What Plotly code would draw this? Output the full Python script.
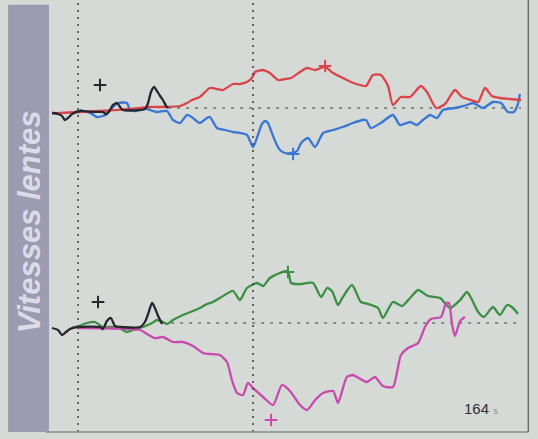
import plotly.graph_objects as go

# Time base in seconds, velocities in deg/s (upper panel: red/blue, lower panel: green/magenta)
red_t = [0, 2.8, 9.8, 16.8, 27.3, 34.3, 39.5, 44.8, 47.2, 49.0, 51.7, 55.2, 57.7, 59.8, 63.3, 65.7,
         68.2, 69.9, 71.0, 73.8, 76.2, 79.0, 81.5, 83.6, 86.7, 89.2, 92.0, 95.5, 98.3, 101.7, 104.5,
         107.7, 109.8, 112.2, 115.0, 117.5, 119.2, 122.0, 125.2, 129.0, 131.1, 134.3, 137.4, 140.9,
         143.4, 146.5, 149.0, 151.4, 153.8, 156.6, 160.1, 164.0]
red_v = [-1.25, -1.25, -1.0, -0.75, -0.25, 0.25, 0.25, 0.5, 1.25, 2.0, 2.75, 5.0, 4.75, 4.5, 6.0, 6.0,
         6.5, 7.5, 9.0, 9.5, 8.75, 7.0, 7.25, 7.5, 9.0, 10.0, 9.5, 10.25, 8.75, 7.5, 6.5,
         5.75, 5.5, 8.25, 8.25, 5.5, 0.75, 2.75, 2.75, 5.5, 4.0, 0.0, 1.0, 4.5,
         2.75, 2.0, 1.5, 5.0, 3.0, 2.5, 2.25, 2.0]

blue_t = [9.8, 13.3, 15.7, 17.8, 19.2, 21.0, 23.1, 26.2, 27.3, 29.7, 31.8, 34.3, 36.7, 40.2, 42.3,
          44.8, 47.2, 49.3, 51.7, 54.2, 55.2, 57.7, 60.5, 63.3, 65.7, 68.2, 70.3, 72.0, 73.4, 74.5,
          75.5, 76.9, 78.3, 79.7, 81.5, 83.9, 85.7, 87.1, 89.5, 92.0, 94.8, 98.3, 101.7, 105.2,
          108.7, 109.8, 111.5, 115.0, 119.2, 121.7, 125.2, 127.6, 129.7, 132.2, 134.6, 136.7,
          140.9, 145.1, 147.2, 150.7, 154.2, 157.0, 159.4, 161.5, 162.9, 163.6]
blue_v = [-0.5, -1.25, -2.25, -2.0, -1.5, 0.0, 1.25, 1.25, -0.5, -0.75, 0.0, -0.5, -1.0, -0.75, -3.0,
          -3.75, -1.75, -2.5, -3.75, -2.5, -2.25, -5.0, -5.5, -6.0, -6.25, -6.75, -9.75, -6.75, -4.0, -3.25,
          -3.75, -6.25, -8.75, -10.5, -11.25, -11.25, -10.75, -8.75, -7.5, -9.75, -6.25, -5.5, -4.75, -3.75,
          -3.0, -3.0, -5.0, -3.75, -1.75, -4.25, -3.5, -4.25, -3.0, -1.75, -2.5, -0.5,
          0.0, 0.75, 1.25, 0.0, 1.5, 1.25, -1.0, -1.0, 1.0, 3.5]

top_black_t = [0, 2.1, 3.5, 4.5, 5.6, 7.0, 9.8, 14.3, 17.8, 18.9, 20.3, 21.3, 22.7, 23.8, 24.8,
               32.5, 33.6, 34.6, 35.7, 36.7, 37.8, 38.8, 39.9, 40.6]
top_black_v = [-1.25, -1.5, -2.0, -3.0, -2.5, -1.5, -0.75, -1.0, -1.0, -1.5, -0.5, 0.75, 1.25, 0.25, -0.5,
               -0.25, 1.25, 4.0, 5.25, 4.25, 3.0, 2.0, 0.5, 0.0]

green_t = [8.7, 12.2, 15.0, 17.8, 22.7, 26.2, 28.3, 31.8, 35.0, 36.7, 38.8, 40.2, 42.3, 45.8, 49.3,
           51.7, 54.2, 56.3, 58.7, 63.3, 65.7, 68.2, 71.7, 73.8, 76.2, 79.7, 82.5, 83.6, 87.1, 89.2,
           91.3, 94.1, 96.2, 97.9, 100.0, 101.7, 104.9, 108.0, 110.5, 114.0, 115.7, 119.2, 122.4,
           125.5, 128.0, 131.5, 135.7, 139.2, 142.7, 145.1, 146.9, 149.0, 151.0, 154.2, 156.6,
           159.1, 161.2, 162.9]
green_v = [-1.0, 0.0, 0.25, -1.0, -1.0, -2.25, -1.75, -1.0, 0.0, 0.75, 0.25, -0.25, 0.75, 2.0, 3.0,
           3.75, 4.75, 5.25, 6.25, 8.0, 5.75, 8.75, 10.0, 9.25, 11.25, 12.5, 13.0, 10.0, 9.75, 10.0,
           10.0, 6.5, 8.75, 8.0, 4.5, 6.5, 9.5, 5.25, 4.75, 3.75, 1.25, 5.25, 4.25,
           6.5, 8.25, 6.75, 6.25, 3.75, 5.75, 7.75, 5.75, 2.75, 1.5, 4.0, 2.0,
           4.5, 3.75, 2.25]

magenta_t = [8.7, 30.8, 33.2, 36.0, 38.8, 42.3, 45.8, 49.3, 52.8, 55.2, 58.7, 61.2, 62.9, 64.7, 66.8,
             68.5, 70.3, 73.8, 77.3, 80.4, 83.2, 86.7, 89.2, 92.0, 94.8, 98.3, 100.0, 103.1, 105.2,
             110.1, 112.9, 115.7, 119.2, 122.0, 124.5, 128.0, 130.4, 132.5, 136.0, 137.8, 138.8,
             139.9, 140.9, 142.7, 144.4]
magenta_v = [-1.25, -1.75, -2.75, -3.75, -3.5, -4.75, -4.75, -5.75, -7.5, -7.75, -8.0, -9.75, -14.25, -17.5, -18.0,
             -15.0, -16.25, -18.5, -20.5, -15.5, -17.0, -20.5, -21.75, -19.25, -17.5, -17.0, -20.0, -13.5, -13.0,
             -14.75, -13.5, -15.75, -16.0, -8.0, -6.25, -5.0, -1.0, 1.0, 1.5, 5.0, 5.0,
             -0.5, -3.25, 0.5, 1.5]

bot_black_t = [0, 2.1, 3.5, 4.9, 6.3, 8.7, 16.8, 17.8, 19.2, 20.6, 22.0, 23.8, 30.8, 32.5, 33.6,
               35.0, 36.0, 37.1, 38.5]
bot_black_v = [-1.25, -1.75, -3.0, -2.25, -1.5, -1.0, -1.0, -1.5, 0.5, 1.25, -0.75, -1.0, -1.0, 0.25, 2.25,
               5.0, 3.75, 1.75, -0.25]

# Peak markers (time, velocity)
top_marks = {"black": (16.8, 5.75), "red": (95.5, 10.5), "blue": (84.3, -11.5)}
bot_marks = {"black": (16.1, 5.25), "green": (82.5, 12.75), "magenta": (76.6, -24.25)}

# Event times (vertical dotted markers) and recording length
event_times = [9.1, 70.3]
duration = 164
zero_start_top = 40.6
zero_start_bot = 38.5

RED = "#d9454a"
BLUE = "#3a76d4"
BLACK = "#26262e"
GREEN = "#3b8f42"
MAGENTA = "#c84aae"
BG = "#d6dad7"

fig = go.Figure()


def add_line(t, v, color, yaxis, width=2.3):
    fig.add_trace(go.Scatter(x=t, y=v, mode="lines", yaxis=yaxis,
                             line=dict(color=color, width=width, shape="spline", smoothing=0.6),
                             hoverinfo="skip", showlegend=False))


def add_mark(pt, color, yaxis):
    fig.add_trace(go.Scatter(x=[pt[0]], y=[pt[1]], mode="markers", yaxis=yaxis,
                             marker=dict(symbol="cross-thin", size=9,
                                         line=dict(color=color, width=2)),
                             hoverinfo="skip", showlegend=False))


# zero reference lines
fig.add_trace(go.Scatter(x=[zero_start_top, duration], y=[0, 0], mode="lines", yaxis="y",
                         line=dict(color="#6e706e", width=1.5, dash="3px,6px"),
                         hoverinfo="skip", showlegend=False))
fig.add_trace(go.Scatter(x=[zero_start_bot, duration], y=[0, 0], mode="lines", yaxis="y2",
                         line=dict(color="#6e706e", width=1.5, dash="3px,6px"),
                         hoverinfo="skip", showlegend=False))

# upper panel
add_line(blue_t, blue_v, BLUE, "y")
add_line(red_t, red_v, RED, "y")
add_line(top_black_t, top_black_v, BLACK, "y")
add_mark(top_marks["black"], BLACK, "y")
add_mark(top_marks["red"], RED, "y")
add_mark(top_marks["blue"], BLUE, "y")

# lower panel
add_line(green_t, green_v, GREEN, "y2")
add_line(magenta_t, magenta_v, MAGENTA, "y2")
add_line(bot_black_t, bot_black_v, BLACK, "y2")
add_mark(bot_marks["black"], BLACK, "y2")
add_mark(bot_marks["green"], GREEN, "y2")
add_mark(bot_marks["magenta"], MAGENTA, "y2")

shapes = []
# side band holding the title
shapes.append(dict(type="rect", xref="paper", yref="paper", x0=0.015, x1=0.091, y0=0.016, y1=0.989,
                   fillcolor="#9b9bb1", line=dict(width=0), layer="below"))
# event markers
for et in event_times:
    shapes.append(dict(type="line", xref="x", yref="paper", x0=et, x1=et, y0=0.016, y1=1.0,
                       line=dict(color="#3c3c40", width=1.5, dash="2px,5px")))
# frame: right edge and baseline
shapes.append(dict(type="line", xref="paper", yref="paper", x0=0.982, x1=0.982, y0=0.016, y1=1.0,
                   line=dict(color="#6a6c6a", width=1.5)))
shapes.append(dict(type="line", xref="paper", yref="paper", x0=0.085, x1=0.982, y0=0.016, y1=0.016,
                   line=dict(color="#8a8c8a", width=1.5)))

annotations = [
    dict(text="<b><i>Vitesses lentes</i></b>", xref="paper", yref="paper", x=0.055, y=0.495,
         showarrow=False, textangle=-90, xanchor="center", yanchor="middle",
         font=dict(family="Liberation Sans, Arial, sans-serif", size=31, color="#dcdce6")),
    dict(text="164 <span style='font-size:9px;color:#8a8a8a'>s</span>", xref="paper", yref="paper",
         x=0.93, y=0.07, showarrow=False, xanchor="right", yanchor="middle",
         font=dict(family="Liberation Sans, Arial, sans-serif", size=15, color="#2e2e2e")),
]

fig.update_layout(
    width=538, height=439,
    margin=dict(l=0, r=0, t=0, b=0),
    paper_bgcolor=BG, plot_bgcolor=BG,
    shapes=shapes, annotations=annotations,
    xaxis=dict(range=[-18.18, 169.93], domain=[0, 1], visible=False, fixedrange=True),
    yaxis=dict(range=[-27.875, 27], domain=[0.5, 1], visible=False),
    yaxis2=dict(range=[-29, 25.875], domain=[0, 0.5], visible=False),
    showlegend=False,
)

fig.write_html("out.html")
